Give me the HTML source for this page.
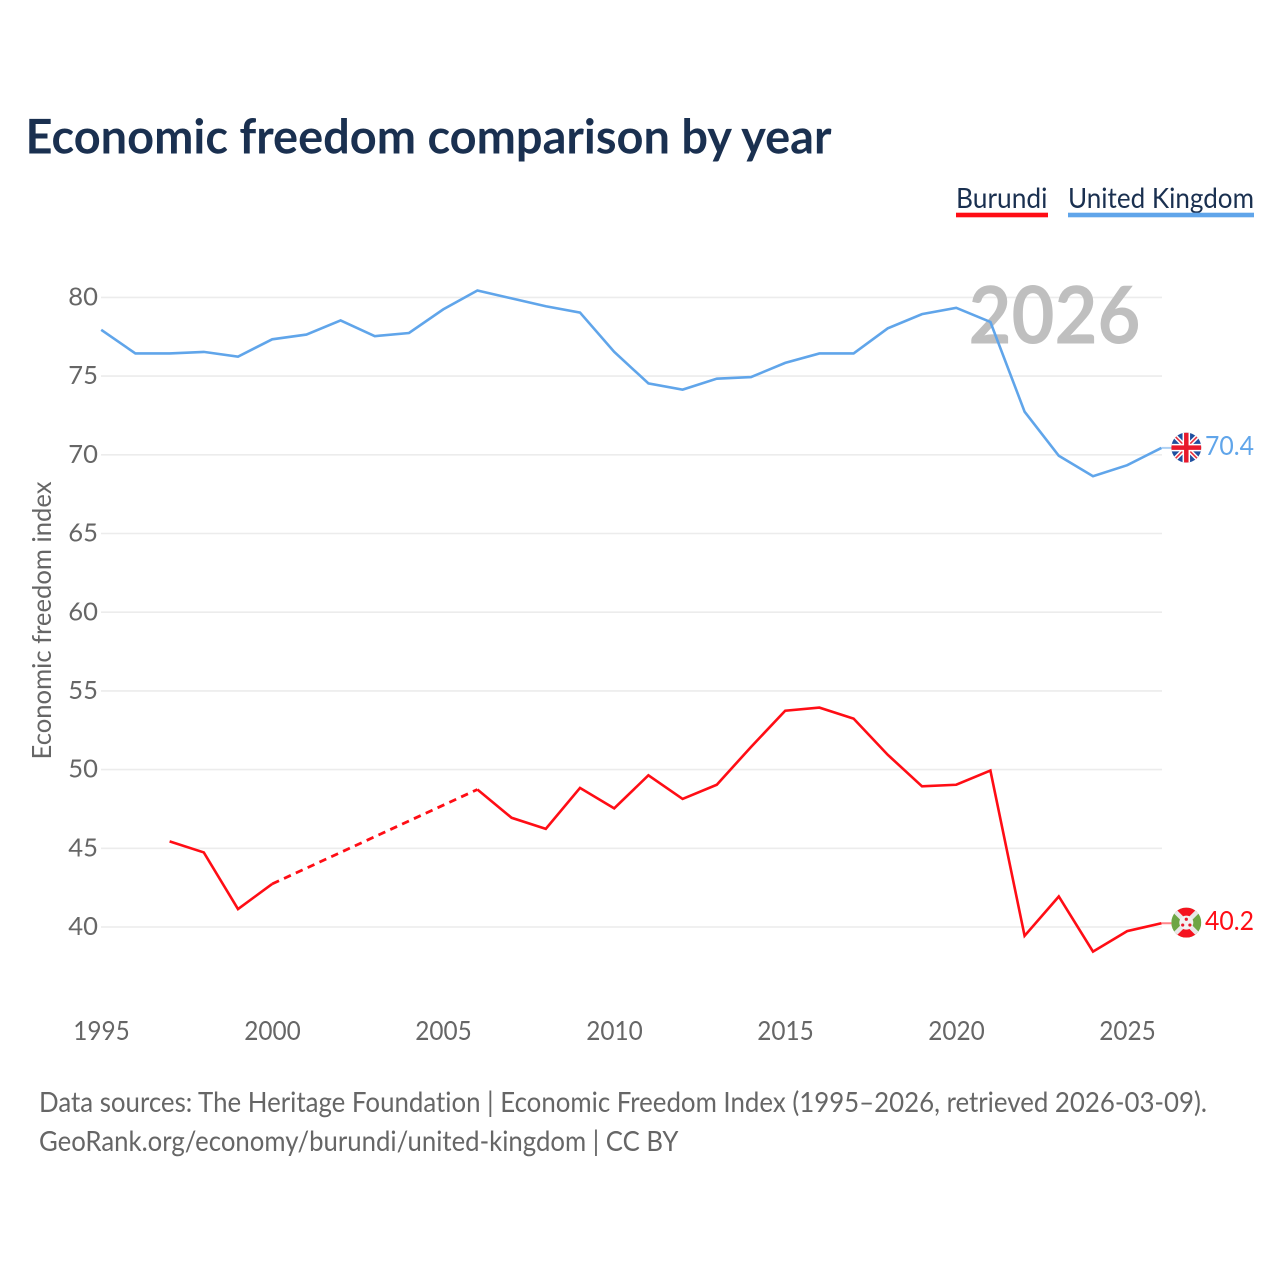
<!DOCTYPE html>
<html lang="en">
<head>
<meta charset="utf-8">
<title>Economic freedom comparison by year</title>
<style>
  html, body { margin: 0; padding: 0; background: #fff; width: 1280px; height: 1280px; overflow: hidden; }
  svg { display: block; font-family: "Lato", "Liberation Sans", sans-serif; font-variant-ligatures: none; }
</style>
</head>
<body>
<svg id="chart" width="1280" height="1280" viewBox="0 0 1280 1280" xmlns="http://www.w3.org/2000/svg">
  <defs>
    <clipPath id="flag-clip-uk"><circle cx="0" cy="0" r="15"/></clipPath>
    <clipPath id="flag-clip-bi"><circle cx="0" cy="0" r="15"/></clipPath>
  </defs>
  <rect width="1280" height="1280" fill="#ffffff"/>
  <text x="25.5" y="153.3" font-size="48" font-weight="700" fill="#1a3050" textLength="806" lengthAdjust="spacingAndGlyphs">Economic freedom comparison by year</text>

  <g>
    <g>
      <text x="956" y="208" font-size="28" fill="#1a3050" textLength="91.5" lengthAdjust="spacingAndGlyphs">Burundi</text>
      <rect x="956" y="212.7" width="92" height="4.6" fill="#ff0d15"/>
    </g>
    <g>
      <text x="1068" y="208" font-size="28" fill="#1a3050" textLength="186" lengthAdjust="spacingAndGlyphs">United Kingdom</text>
      <rect x="1068" y="212.7" width="186" height="4.6" fill="#60a5ea"/>
    </g>
  </g>

  <g id="grid"></g>
  <text x="968.5" y="343.5" font-size="80" font-weight="700" fill="#bfbfbf" textLength="172" lengthAdjust="spacingAndGlyphs">2026</text>
  <g id="y-axis"></g>
  <g id="x-axis"></g>
  <text transform="translate(51,759.5) rotate(-90)" x="0" y="0" font-size="26" fill="#666666" textLength="278" lengthAdjust="spacingAndGlyphs">Economic freedom index</text>
  <g id="series"></g>

  <g id="flag-uk">
    <g clip-path="url(#flag-clip-uk)">
      <rect x="-15" y="-15" width="30" height="30" fill="#1f4f9f"/>
      <path d="M-15 -15L15 15M15 -15L-15 15" stroke="#fff" stroke-width="4.5"/>
      <path d="M-15 -15L15 15M15 -15L-15 15" stroke="#e8323f" stroke-width="1.6"/>
      <path d="M0 -15V15M-15 0H15" stroke="#fff" stroke-width="7.5"/>
      <path d="M0 -15V15M-15 0H15" stroke="#e8192c" stroke-width="4.5"/>
    </g>
  </g>
  <g id="flag-bi">
    <g clip-path="url(#flag-clip-bi)">
      <rect x="-15" y="-15" width="30" height="30" fill="#6ea544"/>
      <path d="M-15 -15L15 -15L0 0ZM-15 15L15 15L0 0Z" fill="#f5121f"/>
      <path d="M-15 -15L15 15M15 -15L-15 15" stroke="#e8e8e8" stroke-width="4.5"/>
      <circle r="7" fill="#f2f2f2"/>
      <circle cx="0" cy="-3.4" r="1.6" fill="#e8192c"/>
      <circle cx="-3.6" cy="2.4" r="1.6" fill="#e8192c"/>
      <circle cx="3.6" cy="2.4" r="1.6" fill="#e8192c"/>
    </g>
  </g>
  <g id="end-labels"></g>

  <text x="39" y="1112" font-size="28" fill="#666666" textLength="1168" lengthAdjust="spacingAndGlyphs">Data sources: The Heritage Foundation | Economic Freedom Index (1995–2026, retrieved 2026-03-09).</text>
  <text x="39" y="1151" font-size="28" fill="#666666" textLength="639.5" lengthAdjust="spacingAndGlyphs">GeoRank.org/economy/burundi/united-kingdom | CC BY</text>
</svg>

<script>
const years = [1995,1996,1997,1998,1999,2000,2001,2002,2003,2004,2005,2006,2007,2008,2009,2010,2011,2012,2013,2014,2015,2016,2017,2018,2019,2020,2021,2022,2023,2024,2025,2026];
const ukValues = [77.9,76.4,76.4,76.5,76.2,77.3,77.6,78.5,77.5,77.7,79.2,80.4,79.9,79.4,79.0,76.5,74.5,74.1,74.8,74.9,75.8,76.4,76.4,78.0,78.9,79.3,78.4,72.7,69.9,68.6,69.3,70.4];
const burundiValues = [null,null,45.4,44.7,41.1,42.7,null,null,null,null,null,48.7,46.9,46.2,48.8,47.5,49.6,48.1,49.0,51.4,53.7,53.9,53.2,50.9,48.9,49.0,49.9,39.4,41.9,38.4,39.7,40.2];
const yTicks = [40,45,50,55,60,65,70,75,80];
const xTicks = [1995,2000,2005,2010,2015,2020,2025];

const NS = 'http://www.w3.org/2000/svg';
const xScale = function (year) { return 101.2 + (year - 1995) * 34.2; };
const yScale = function (value) { return 926.4 - (value - 40) * 15.74; };

function make(tag, parent, attrs, content) {
  const el = document.createElementNS(NS, tag);
  Object.keys(attrs).forEach(function (k) { el.setAttribute(k, attrs[k]); });
  if (content !== undefined) el.textContent = content;
  parent.appendChild(el);
  return el;
}

const gridGroup = document.getElementById('grid');
const yGroup = document.getElementById('y-axis');
yTicks.forEach(function (t) {
  const line = make('line', gridGroup, { x1: 101, x2: 1162, y1: yScale(t) + 0.6, y2: yScale(t) + 0.6, stroke: '#ececec', 'stroke-width': 1.6 });
  
  
  const label = make('text', yGroup, { x: 98, y: yScale(t) + 8.7, 'text-anchor': 'end', 'font-size': 25.6, fill: '#666666' }, String(t));
  
  
});

const xGroup = document.getElementById('x-axis');
xTicks.forEach(function (t) {
  const label = make('text', xGroup, { x: xScale(t) + 0.3, y: 1040, 'text-anchor': 'middle', 'font-size': 26, fill: '#666666', textLength: 56.5, lengthAdjust: 'spacingAndGlyphs' }, String(t));
  
  
});

function drawSeries(values, color, name) {
  const group = make('g', document.getElementById('series'), {});
  
  
  let run = [];
  let prev = null;
  function flush() {
    if (run.length > 1) {
      const solid = make('polyline', group, { points: run.join(' '), fill: 'none', stroke: color, 'stroke-width': 2.6, 'stroke-linejoin': 'miter' });
      
      
    }
    run = [];
  }
  values.forEach(function (v, i) {
    if (v === null) return;
    const px = xScale(years[i]);
    const py = yScale(v);
    if (prev !== null && i - prev.i > 1) {
      flush();
      const gap = make('line', group, { x1: prev.x, y1: prev.y, x2: px, y2: py, stroke: color, 'stroke-width': 2.8, 'stroke-dasharray': '7.5 5.5' });
      
      
    }
    run.push(px + ',' + py);
    prev = { i: i, x: px, y: py };
  });
  flush();
  const lead = make('line', group, { x1: prev.x, y1: prev.y, x2: prev.x + 10, y2: prev.y, stroke: color, 'stroke-width': 2, opacity: 0.5 });
  
  
  return prev;
}

const endBi = drawSeries(burundiValues, '#ff0d15', 'burundi');
const endUk = drawSeries(ukValues, '#60a5ea', 'united-kingdom');

document.getElementById('flag-uk').setAttribute('transform', 'translate(1186.3,' + (endUk.y - 0.3) + ')');
document.getElementById('flag-bi').setAttribute('transform', 'translate(1186.3,' + (endBi.y - 0.6) + ')');

const endGroup = document.getElementById('end-labels');
const ukLabel = make('text', endGroup, { x: 1254, y: endUk.y + 7.2, 'text-anchor': 'end', 'font-size': 26, fill: '#60a5ea', textLength: 49, lengthAdjust: 'spacingAndGlyphs' }, ukValues[ukValues.length - 1].toFixed(1));


const biLabel = make('text', endGroup, { x: 1254, y: endBi.y + 6.8, 'text-anchor': 'end', 'font-size': 26, fill: '#ff0d15', textLength: 49, lengthAdjust: 'spacingAndGlyphs' }, burundiValues[burundiValues.length - 1].toFixed(1));


</script>
</body>
</html>
